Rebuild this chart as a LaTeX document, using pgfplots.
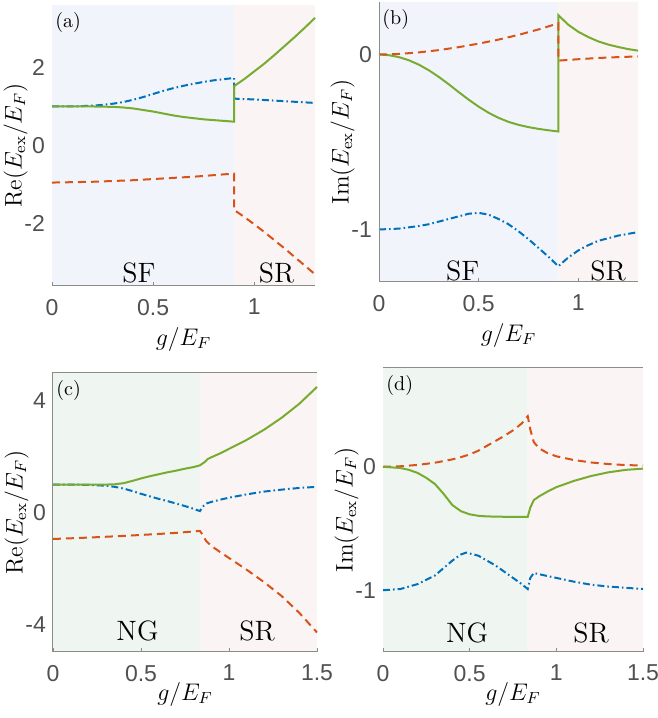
\documentclass[border=0pt]{standalone}
\usepackage{pgfplots}
\pgfplotsset{compat=1.18}
\usepackage{fontspec}
\newfontfamily\tickfont{Liberation Sans}
\definecolor{mblue}{HTML}{0072BD}
\definecolor{mred}{HTML}{D95319}
\definecolor{mgreen}{HTML}{77AC30}
\definecolor{sfbg}{HTML}{F1F5FB}
\definecolor{srbg}{HTML}{FAF5F4}
\definecolor{ngbg}{HTML}{EFF5F1}
\definecolor{axgray}{HTML}{8C8C8C}
\definecolor{tickgray}{HTML}{505050}
\pgfplotsset{
  panel/.style={scale only axis, anchor=north west, clip=false, axis on top,
    axis line style={draw=none}, tick align=inside, xtick pos=bottom, ytick pos=left,
    major tick length=2pt, xtick style={axgray, line width=0.4pt}, ytick style={draw=none},
    ticklabel style={font=\tickfont\fontsize{11.5}{13}\selectfont, text=tickgray},
    xticklabel style={yshift=-3pt},
    label style={font=\fontsize{12}{14}\selectfont},
    xlabel={$g/E_F$},
    ylabel style={at={([xshift=-12pt]rel axis cs:0,0.5)}, anchor=south, inner sep=0pt},
    xmin=0},
  topx/.style={xlabel style={at={([yshift=-20.5pt]rel axis cs:0.5,0)}, anchor=north, inner sep=0pt}},
  botx/.style={xlabel style={at={([yshift=-15pt]rel axis cs:0.5,0)}, anchor=north, inner sep=0pt}},
  gline/.style={mgreen, line width=1pt},
  rline/.style={mred, line width=1pt, dash pattern=on 4pt off 2.5pt},
  bline/.style={mblue, line width=1pt, dash pattern=on 3.5pt off 1.5pt on 0.8pt off 1.5pt},
}
\newcommand{\plab}[1]{\node[anchor=north west, inner sep=0pt, font=\fontsize{10}{12}\selectfont] at ([xshift=1.5pt,yshift=-3.5pt]rel axis cs:0,1) {#1};}
\newcommand{\rlab}[3]{\node[anchor=base, inner sep=0pt, font=\fontsize{14}{16}\selectfont] at (axis cs:#1,#2) {#3};}
\begin{document}
\begin{tikzpicture}
\useasboundingbox (0,0) rectangle (329pt,359pt);
% ---------------- (a)
\begin{axis}[panel, topx, at={(26pt,356.5pt)}, width=131.5pt, height=140.5pt,
  xmax=1.3, ymin=-3.6, ymax=3.6, xtick={0,0.5,1}, xticklabels={0,0.5,1},
  ytick={-2,0,2}, yticklabels={-2,0,2}, ylabel={$\mathrm{Re}(E_{\mathrm{ex}}/E_F)$}]
\addplot[fill=sfbg, draw=none] coordinates {(0,-3.6) (0.9,-3.6) (0.9,3.6) (0,3.6) (0,-3.6)};
\addplot[fill=srbg, draw=none] coordinates {(0.9,-3.6) (1.3,-3.6) (1.3,3.6) (0.9,3.6) (0.9,-3.6)};
\addplot[rline] coordinates {(0,-0.95) (0.1,-0.94) (0.2,-0.93) (0.3,-0.91) (0.4,-0.89) (0.5,-0.86) (0.6,-0.83) (0.7,-0.80) (0.8,-0.76) (0.9,-0.72)
 (0.9,-1.65) (0.95,-1.83) (1.0,-2.02) (1.05,-2.22) (1.1,-2.43) (1.15,-2.64) (1.2,-2.86) (1.25,-3.08) (1.3,-3.30)};
\addplot[bline] coordinates {(0,1.0) (0.05,1.0) (0.1,1.0) (0.15,1.01) (0.2,1.02) (0.25,1.04) (0.3,1.07) (0.35,1.11) (0.4,1.17) (0.45,1.24) (0.5,1.32) (0.55,1.40) (0.6,1.47) (0.65,1.53) (0.7,1.58) (0.75,1.63) (0.8,1.67) (0.85,1.70) (0.9,1.73)
 (0.9,1.20) (1.0,1.18) (1.1,1.15) (1.2,1.12) (1.3,1.09)};
\addplot[gline] coordinates {(0,1.0) (0.05,1.0) (0.1,1.0) (0.15,1.0) (0.2,1.0) (0.25,0.995) (0.3,0.99) (0.35,0.975) (0.4,0.95) (0.45,0.91) (0.5,0.87) (0.55,0.82) (0.6,0.77) (0.65,0.73) (0.7,0.70) (0.75,0.67) (0.8,0.65) (0.85,0.63) (0.9,0.61)
 (0.9,1.52) (0.95,1.70) (1.0,1.90) (1.05,2.10) (1.1,2.32) (1.15,2.55) (1.2,2.78) (1.25,3.02) (1.3,3.27)};
\draw[axgray, line width=0.5pt] (rel axis cs:0,0) -- (rel axis cs:1,0);
\plab{(a)}
\rlab{0.43}{-3.52}{SF}
\rlab{1.11}{-3.52}{SR}
\end{axis}
% ---------------- (b)
\begin{axis}[panel, topx, at={(189.5pt,358pt)}, width=129.5pt, height=140pt,
  xmax=1.3, ymin=-1.3, ymax=0.3, xtick={0,0.5,1}, xticklabels={0,0.5,1},
  ytick={-1,0}, yticklabels={-1,0}, ylabel={$\mathrm{Im}(E_{\mathrm{ex}}/E_F)$}]
\addplot[fill=sfbg, draw=none] coordinates {(0,-1.3) (0.9,-1.3) (0.9,0.3) (0,0.3) (0,-1.3)};
\addplot[fill=srbg, draw=none] coordinates {(0.9,-1.3) (1.3,-1.3) (1.3,0.3) (0.9,0.3) (0.9,-1.3)};
\addplot[gline] coordinates {(0,0) (0.05,-0.004) (0.1,-0.015) (0.15,-0.033) (0.2,-0.058) (0.25,-0.09) (0.3,-0.128) (0.35,-0.17) (0.4,-0.215) (0.45,-0.258) (0.5,-0.298) (0.55,-0.333) (0.6,-0.362) (0.65,-0.385) (0.7,-0.402) (0.75,-0.415) (0.8,-0.425) (0.85,-0.433) (0.9,-0.44)
 (0.9,0.225) (0.95,0.17) (1.0,0.13) (1.05,0.10) (1.1,0.075) (1.15,0.057) (1.2,0.043) (1.25,0.031) (1.3,0.022)};
\addplot[rline] coordinates {(0,0) (0.1,0.003) (0.2,0.012) (0.3,0.025) (0.4,0.042) (0.5,0.062) (0.6,0.085) (0.7,0.112) (0.8,0.143) (0.9,0.178)
 (0.9,-0.035) (1.0,-0.027) (1.1,-0.02) (1.2,-0.015) (1.3,-0.011)};
\addplot[bline] coordinates {(0,-1.0) (0.1,-0.995) (0.2,-0.98) (0.25,-0.97) (0.3,-0.955) (0.35,-0.94) (0.4,-0.925) (0.45,-0.91) (0.5,-0.905) (0.55,-0.915) (0.6,-0.94) (0.65,-0.97) (0.7,-1.01) (0.75,-1.055) (0.8,-1.105) (0.85,-1.155) (0.9,-1.21)
 (0.95,-1.16) (1.0,-1.12) (1.05,-1.09) (1.1,-1.065) (1.15,-1.05) (1.2,-1.035) (1.25,-1.025) (1.3,-1.015)};
\draw[axgray, line width=0.5pt] (rel axis cs:0,0) -- (rel axis cs:1,0);
\draw[axgray, line width=0.5pt] (rel axis cs:0,0) -- (rel axis cs:0,1);
\plab{(b)}
\rlab{0.42}{-1.29}{SF}
\rlab{1.15}{-1.29}{SR}
\end{axis}
% ---------------- (c)
\begin{axis}[panel, botx, at={(26.5pt,172.5pt)}, width=132pt, height=139.5pt,
  xmax=1.5, ymin=-5, ymax=5, xtick={0,0.5,1,1.5}, xticklabels={0,0.5,1,1.5},
  ytick={-4,0,4}, yticklabels={-4,0,4}, ylabel={$\mathrm{Re}(E_{\mathrm{ex}}/E_F)$}]
\addplot[fill=ngbg, draw=none] coordinates {(0,-5) (0.835,-5) (0.835,5) (0,5) (0,-5)};
\addplot[fill=srbg, draw=none] coordinates {(0.835,-5) (1.5,-5) (1.5,5) (0.835,5) (0.835,-5)};
\addplot[rline] coordinates {(0,-0.95) (0.2,-0.9) (0.4,-0.84) (0.6,-0.77) (0.7,-0.73) (0.8,-0.68) (0.835,-0.66) (0.85,-0.8) (0.87,-1.02) (0.9,-1.2) (0.95,-1.42) (1.0,-1.63) (1.1,-2.05) (1.2,-2.5) (1.3,-3.0) (1.4,-3.6) (1.5,-4.3)};
\addplot[bline] coordinates {(0,1.0) (0.1,1.0) (0.2,0.99) (0.3,0.96) (0.35,0.92) (0.4,0.86) (0.45,0.77) (0.5,0.67) (0.55,0.58) (0.6,0.49) (0.65,0.41) (0.7,0.32) (0.75,0.23) (0.8,0.13) (0.835,0.05) (0.85,0.2) (0.87,0.32) (0.9,0.38) (0.95,0.46) (1.0,0.53) (1.1,0.65) (1.2,0.75) (1.3,0.82) (1.4,0.88) (1.5,0.92)};
\addplot[gline] coordinates {(0,1.0) (0.1,1.0) (0.2,1.0) (0.3,1.0) (0.35,1.01) (0.4,1.05) (0.45,1.13) (0.5,1.22) (0.55,1.3) (0.6,1.37) (0.65,1.44) (0.7,1.5) (0.75,1.57) (0.8,1.63) (0.835,1.69) (0.86,1.8) (0.88,1.92) (0.9,1.98) (0.95,2.12) (1.0,2.28) (1.1,2.6) (1.2,2.97) (1.3,3.4) (1.4,3.9) (1.5,4.5)};
\draw[axgray, line width=0.5pt] (rel axis cs:0,0) -- (rel axis cs:1,0);
\draw[axgray, line width=0.5pt] (rel axis cs:0,0) -- (rel axis cs:0,1) -- (rel axis cs:1,1);
\plab{(c)}
\rlab{0.48}{-4.6}{NG}
\rlab{1.16}{-4.6}{SR}
\end{axis}
% ---------------- (d)
\begin{axis}[panel, botx, at={(191.5pt,175pt)}, width=130pt, height=142pt,
  xmax=1.5, ymin=-1.5, ymax=0.8, xtick={0,0.5,1,1.5}, xticklabels={0,0.5,1,1.5},
  ytick={-1,0}, yticklabels={-1,0}, ylabel={$\mathrm{Im}(E_{\mathrm{ex}}/E_F)$}]
\addplot[fill=ngbg, draw=none] coordinates {(0,-1.5) (0.835,-1.5) (0.835,0.8) (0,0.8) (0,-1.5)};
\addplot[fill=srbg, draw=none] coordinates {(0.835,-1.5) (1.5,-1.5) (1.5,0.8) (0.835,0.8) (0.835,-1.5)};
\addplot[rline] coordinates {(0,0) (0.1,0.004) (0.2,0.015) (0.3,0.033) (0.4,0.06) (0.45,0.078) (0.5,0.1) (0.55,0.13) (0.6,0.17) (0.65,0.21) (0.7,0.25) (0.75,0.295) (0.8,0.35) (0.835,0.41) (0.85,0.3) (0.87,0.2) (0.9,0.15) (0.95,0.11) (1.0,0.085) (1.1,0.055) (1.2,0.035) (1.3,0.022) (1.4,0.014) (1.5,0.01)};
\addplot[gline] coordinates {(0,0) (0.1,-0.01) (0.15,-0.025) (0.2,-0.05) (0.25,-0.09) (0.3,-0.14) (0.35,-0.22) (0.4,-0.31) (0.45,-0.36) (0.5,-0.385) (0.55,-0.397) (0.6,-0.402) (0.7,-0.405) (0.835,-0.405) (0.85,-0.33) (0.87,-0.27) (0.9,-0.24) (0.95,-0.2) (1.0,-0.165) (1.1,-0.115) (1.2,-0.075) (1.3,-0.045) (1.4,-0.025) (1.5,-0.015)};
\addplot[bline] coordinates {(0,-1.0) (0.1,-0.99) (0.2,-0.95) (0.3,-0.88) (0.35,-0.82) (0.4,-0.76) (0.45,-0.71) (0.48,-0.695) (0.55,-0.72) (0.6,-0.76) (0.65,-0.8) (0.7,-0.85) (0.75,-0.9) (0.8,-0.95) (0.835,-0.99) (0.85,-0.9) (0.87,-0.86) (0.9,-0.87) (1.0,-0.9) (1.1,-0.93) (1.2,-0.955) (1.3,-0.97) (1.4,-0.98) (1.5,-0.99)};
\draw[axgray, line width=0.5pt] (rel axis cs:0,0) -- (rel axis cs:1,0);
\draw[axgray, line width=0.5pt] (rel axis cs:0,1) -- (rel axis cs:1,1);
\plab{(d)}
\rlab{0.485}{-1.42}{NG}
\rlab{1.2}{-1.42}{SR}
\end{axis}
\end{tikzpicture}
\end{document}
